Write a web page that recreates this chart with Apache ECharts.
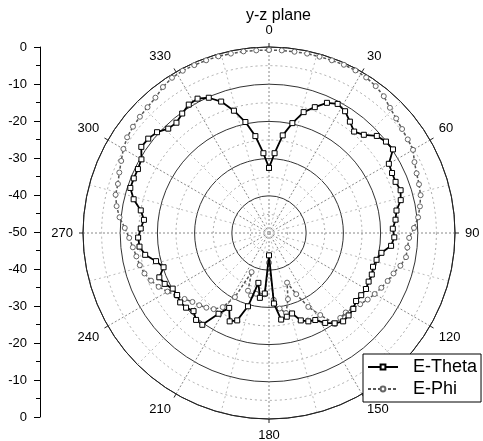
<!DOCTYPE html>
<html>
<head>
<meta charset="utf-8">
<script src="https://cdn.jsdelivr.net/npm/echarts@6/dist/echarts.min.js"></script>
<style>
html,body{margin:0;padding:0;background:#fff;}
#chart{width:483px;height:441px;}
</style>
</head>
<body>
<div id="chart"></div>
<script>
const angles = [0,4,8,12,16,20,24,28,32,36,40,44,48,52,56,60,64,68,72,76,80,84,88,92,96,100,104,108,112,116,120,124,128,132,136,140,144,148,152,156,160,164,168,172,176,180,184,188,192,196,200,204,208,212,216,220,224,228,232,236,240,244,248,252,256,260,264,268,272,276,280,284,288,292,296,300,304,308,312,316,320,324,328,332,336,340,344,348,352,356];
const eTheta = [-32.5,-28.5,-23.5,-19.8,-16.2,-14.0,-11.7,-10.7,-11.4,-13.0,-14.4,-13.3,-11.0,-10.1,-9.8,-12.8,-13.2,-13.3,-12.8,-13.5,-15.2,-15.8,-16.7,-16.3,-17.0,-19.3,-20.2,-20.6,-20.2,-20.2,-19.9,-20.1,-20.3,-19.5,-19.2,-19.0,-20.0,-21.5,-23.5,-24.0,-25.0,-27.5,-27.0,-26.5,-31.0,-44.0,-33.7,-32.4,-36.3,-29.5,-25.0,-24.0,-27.2,-24.4,-19.5,-19.5,-20.8,-20.0,-19.7,-20.2,-20.1,-18.8,-18.2,-20.2,-18.7,-16.2,-15.0,-14.8,-15.5,-16.2,-15.0,-12.5,-10.8,-10.8,-10.8,-10.4,-8.6,-8.8,-9.5,-11.0,-11.3,-10.3,-9.3,-9.1,-10.2,-12.4,-15.8,-19.5,-23.7,-28.5];
const ePhi = [-0.8,-0.8,-0.8,-0.7,-0.7,-0.6,-0.5,-0.5,-0.7,-1.2,-2.0,-3.2,-4.0,-4.6,-5.0,-5.3,-6.5,-7.2,-7.6,-8.0,-8.8,-9.7,-11.0,-12.3,-12.6,-12.6,-13.6,-14.8,-15.6,-16.4,-17.2,-18.0,-18.9,-19.8,-20.3,-20.2,-19.8,-24.0,-27.5,-32.0,-35.8,-31.5,-28.0,-29.5,-32.0,-42.0,-33.5,-33.0,-33.3,-32.5,-33.5,-38.5,-30.5,-26.5,-24.7,-23.8,-23.0,-22.3,-21.2,-19.9,-18.5,-17.0,-15.8,-14.8,-14.2,-13.8,-13.2,-12.4,-11.2,-9.6,-8.4,-7.5,-7.3,-6.6,-5.8,-4.8,-4.0,-3.6,-3.3,-3.0,-2.5,-1.5,-0.8,-0.6,-0.6,-0.6,-0.6,-0.7,-0.7,-0.8];
const angleTickLabels = ['0','30','60','90','120','150','180','210','240','270','300','330'];
const leftTickLabels = ['0','-10','-20','-30','-40','-50','-40','-30','-20','-10','0'];
const seriesNames = ['E-Theta','E-Phi'];

function toPolar(vals){
  const d = vals.map((v,i)=>[v, angles[i]]);
  d.push([vals[0], 360]);
  return d;
}

const chart = echarts.init(document.getElementById('chart'), null, {renderer:'canvas'});
const font = 'Liberation Sans, Arial, sans-serif';
chart.setOption({
  animation:false,
  backgroundColor:'#fff',
  title:{text:'y-z plane', left:246, top:8, padding:0,
    textStyle:{fontSize:16, fontWeight:'normal', color:'#000', fontFamily:font}},
  legend:{
    data:seriesNames, orient:'vertical', left:363, top:354,
    padding:[4,4,4,4], itemGap:4, itemWidth:30, itemHeight:6,
    borderColor:'#000', borderWidth:1, backgroundColor:'#fff', borderRadius:0,
    textStyle:{fontSize:18, lineHeight:18, color:'#000', fontFamily:font, padding:[0,0,0,10]}
  },
  grid:{left:40, top:47, width:1, height:370},
  xAxis:{type:'value', show:false},
  yAxis:{
    type:'value', min:0, max:100, interval:10,
    axisLine:{show:true, lineStyle:{color:'#000', width:1}},
    axisTick:{show:true, length:6, lineStyle:{color:'#000'}},
    minorTick:{show:true, splitNumber:2, length:4, lineStyle:{color:'#000'}},
    splitLine:{show:false},
    axisLabel:{color:'#000', fontSize:13, fontFamily:font, margin:13,
      formatter:(v)=>leftTickLabels[Math.round(v/10)]}
  },
  polar:{center:[269,233], radius:186},
  angleAxis:{
    type:'value', min:0, max:360, interval:30, startAngle:90, clockwise:true,
    axisLine:{show:true, lineStyle:{color:'#222', width:1}},
    axisTick:{show:true, length:4, lineStyle:{color:'#222'}},
    axisLabel:{color:'#000', fontSize:13, fontFamily:font, margin:10,
      formatter:(v)=> v>=360 ? '' : angleTickLabels[Math.round(v/30)]},
    splitLine:{show:true, lineStyle:{color:'#888', type:[2,2], width:1}},
    minorTick:{show:false, splitNumber:2},
    minorSplitLine:{show:true, lineStyle:{color:'#bbb', type:[2,3], width:1}}
  },
  radiusAxis:{
    type:'value', min:-50, max:0, interval:10,
    axisLine:{show:false}, axisTick:{show:false}, axisLabel:{show:false},
    splitLine:{show:true, lineStyle:{color:'#333', width:1, type:'solid'}},
    minorTick:{show:false, splitNumber:2},
    minorSplitLine:{show:true, lineStyle:{color:'#aaa', type:[2,3], width:1}}
  },
  series:[
    {name:'E-Theta', type:'line', coordinateSystem:'polar', data:toPolar(eTheta),
      symbol:'rect', symbolSize:5, showSymbol:true, z:4,
      lineStyle:{color:'#000', width:1.8},
      itemStyle:{color:'#fff', borderColor:'#000', borderWidth:1}},
    {name:'E-Phi', type:'line', coordinateSystem:'polar', data:toPolar(ePhi),
      symbol:'circle', symbolSize:5, showSymbol:true, z:3,
      lineStyle:{color:'#555', width:1.5, type:[3,2]},
      itemStyle:{color:'#fff', borderColor:'#666', borderWidth:1}}
  ]
});
</script>
</body>
</html>
